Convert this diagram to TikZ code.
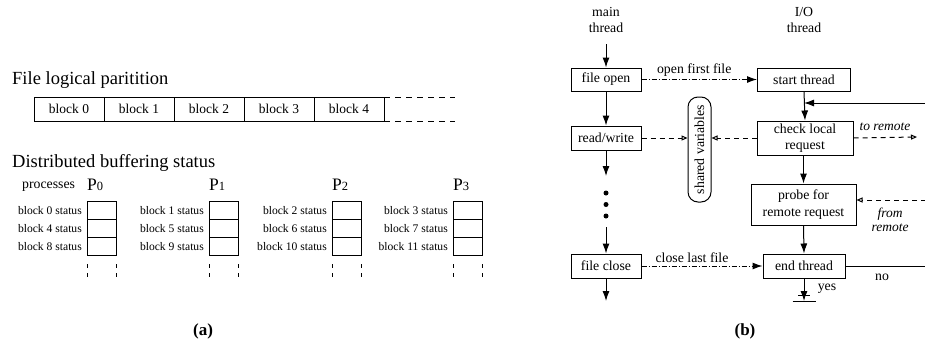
\documentclass[tikz,border=0pt]{standalone}
\usepackage{fontspec}
\setmainfont{Liberation Serif}
\usetikzlibrary{arrows.meta}
\newcommand\setfs[2]{\fontsize{#1pt}{#2pt}\selectfont}
\tikzset{
  lw/.style={line width=1pt},
  blk/.style={draw, lw, minimum width=70pt, minimum height=24pt, inner sep=0pt, outer sep=0pt, font=\setfs{13.5}{16}},
  cell/.style={draw, lw, minimum width=29pt, minimum height=17.67pt, inner sep=0pt, outer sep=0pt},
  statlbl/.style={anchor=east, inner sep=0pt, font=\setfs{11.6}{13}},
  flow/.style={draw, lw, inner sep=0pt, align=center, font=\setfs{13.8}{16.5}},
  lbl/.style={inner sep=0pt, align=center, font=\setfs{13.8}{16.5}},
  ilbl/.style={inner sep=0pt, align=center, font=\setfs{13.5}{14.5}\itshape},
  solid arrow/.style={lw, -{Latex[length=10pt,width=7pt]}},
  open arrow/.style={lw, dash pattern=on 5pt off 4pt, -{Triangle[open,length=6pt,width=5pt]}},
  dashdot arrow/.style={lw, dash pattern=on 5pt off 2pt on 1pt off 2pt, -{Latex[length=10pt,width=7pt]}},
  tail/.style={lw, dash pattern=on 4pt off 5pt},
  extend/.style={lw, dash pattern=on 6pt off 5pt},
  caption/.style={font=\setfs{17}{19}\bfseries}
}
\begin{document}
\begin{tikzpicture}[x=1pt,y=-1pt]
\useasboundingbox (0,0) rectangle (925,343);

% ---------- (a) file partition ----------
\node[anchor=base west, inner sep=0pt, font=\setfs{18.5}{20}] (title1) at (12,84) {File logical paritition};
\foreach \i in {0,...,4}
  \node[blk] (b\i) at ({69+70*\i},109) {block \i};
\coordinate (ext1) at (455,97);
\coordinate (ext2) at (455,121);
\draw[extend] (b4.north east) -- (ext1);
\draw[extend] (b4.south east) -- (ext2);

% ---------- (a) buffering status per process ----------
\node[anchor=base west, inner sep=0pt, font=\setfs{18.5}{20}] (title2) at (12,167) {Distributed buffering status};
\node[anchor=base west, inner sep=0pt, font=\setfs{13.8}{16}] (proc) at (22,188) {processes};
\foreach \p/\x/\ba/\bb/\bc in {0/87/0/4/8, 1/209/1/5/9, 2/332/2/6/10, 3/453/3/7/11} {
  \node[anchor=base west, inner sep=0pt, font=\setfs{17.5}{18}] (P\p) at (\x,190) {P\setfs{12.5}{13}\p};
  \node[cell] (c\p a) at (\x+14.5,210.83) {};
  \node[cell] (c\p b) at (\x+14.5,228.5) {};
  \node[cell] (c\p c) at (\x+14.5,246.17) {};
  \node[statlbl] (s\p a) at (\x-5,210.83) {block \ba\ status};
  \node[statlbl] (s\p b) at (\x-5,228.5) {block \bb\ status};
  \node[statlbl] (s\p c) at (\x-5,246.17) {block \bc\ status};
  \draw[tail] (c\p c.south west) ++(0,9) -- ++(0,13);
  \draw[tail] (c\p c.south east) ++(0,9) -- ++(0,13);
}
\node[caption] (capa) at (203,331) {(a)};

% ---------- (b) main thread ----------
\node[lbl] (mainlbl) at (606,20) {main\\thread};
\coordinate (mtop) at (606,44);
\node[flow, minimum width=70pt, minimum height=23pt] (fopen) at (606,79.5) {file open};
\node[flow, minimum width=70pt, minimum height=24pt] (rw) at (606,138) {read/write};
\coordinate (rwend) at (606,176);
\node[circle, fill, inner sep=0pt, minimum size=5pt] (d1) at (606,193) {};
\node[circle, fill, inner sep=0pt, minimum size=5pt] (d2) at (606,204.5) {};
\node[circle, fill, inner sep=0pt, minimum size=5pt] (d3) at (606,216) {};
\coordinate (fcstart) at (606,227);
\node[flow, minimum width=70pt, minimum height=24pt] (fclose) at (606,266) {file close};
\coordinate (mbot) at (606,301);

\draw[solid arrow] (mtop) -- (fopen.north);
\draw[solid arrow] (fopen.south) -- (rw.north);
\draw[solid arrow] (rw.south) -- (rwend);
\draw[solid arrow] (fcstart) -- (fclose.north);
\draw[solid arrow] (fclose.south) -- (mbot);

% ---------- (b) shared variables ----------
\node[draw, lw, rounded corners=10pt, minimum width=23pt, minimum height=105pt, inner sep=0pt] (sv) at (699.5,149.5) {};
\node[rotate=90, inner sep=0pt, font=\setfs{13.8}{16}] (svtext) at (sv.center) {shared variables};

% ---------- (b) I/O thread ----------
\node[lbl] (iolbl) at (804,20) {I/O\\thread};
\node[flow, minimum width=93pt, minimum height=23pt] (start) at (804,79.5) {start thread};
\node[flow, minimum width=96pt, minimum height=34pt] (check) at (805,138) {check local\\request};
\node[flow, minimum width=105pt, minimum height=41pt] (probe) at (803.5,204.5) {probe for\\remote request};
\node[flow, minimum width=82pt, minimum height=24pt] (endt) at (804,266) {end thread};

\draw[solid arrow] (start.south) -- (check.north);
\draw[solid arrow] (check.south -| probe.north) -- (probe.north);
\draw[solid arrow] (probe.south) -- (endt.north);

% loop back from "end thread" to the top of "check local request"
\coordinate (loopR) at (929,103);
\draw[solid arrow] (endt.east) -| (loopR) -- (loopR -| start.south);
\node[lbl, anchor=base] (nolbl) at (882,280) {no};

% termination
\coordinate (gnd) at (804,301);
\draw[solid arrow] (endt.south) -- (gnd);
\draw[lw] ([xshift=-11.5pt]gnd) -- ([xshift=11.5pt]gnd);
\draw[lw] ([xshift=-6pt,yshift=6pt]gnd) -- ([xshift=6pt,yshift=6pt]gnd);
\node[lbl, anchor=base] (yeslbl) at (827,290) {yes};

% ---------- (b) cross-thread links ----------
\draw[dashdot arrow] (fopen.east) -- (start.west) node[midway, above=3pt, lbl, xshift=-5pt] (ofl) {open first file};
\draw[dashdot arrow] (fclose.east) -- (endt.west) node[midway, above=3pt, lbl, xshift=-10pt] (clf) {close last file};
\draw[open arrow] (rw.east) -- (rw.east -| sv.west);
\draw[open arrow] (check.west) -- (check.west -| sv.east);

% ---------- (b) remote traffic ----------
\coordinate (toR) at (917,137);
\draw[open arrow] (check.east) -- (toR);
\node[ilbl] (tolbl) at (885,127) {to remote};
\coordinate (fromR) at (926,200);
\draw[open arrow] (fromR) -- (fromR -| probe.east);
\node[ilbl] (fromlbl) at (890,220) {from\\remote};

\node[caption] (capb) at (745,331) {(b)};
\end{tikzpicture}
\end{document}
